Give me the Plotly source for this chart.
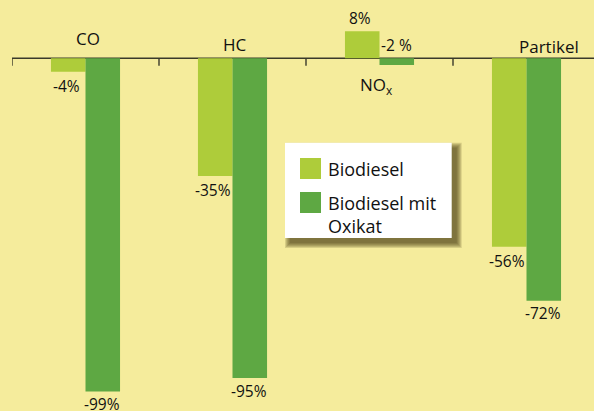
import plotly.graph_objects as go

# Emission change vs. diesel, in percent
categories = ["CO", "HC", "NOx", "Partikel"]
cat_labels = ["CO", "HC", "NO<sub>x</sub>", "Partikel"]
biodiesel = [-4, -35, 8, -56]
biodiesel_oxikat = [-99, -95, -2, -72]
series_names = ["Biodiesel", "Biodiesel mit<br>Oxikat"]

BG = "#F5EC9C"
LIGHT = "#AECC3A"
DARK = "#5EA843"
INK = "#111111"
FONT = "Open Sans"

W, H = 594, 411
ML = 12
PX_PER_UNIT_Y = 3.366
ZERO_PX = 58.3
X_UNIT_PX = 147.0

y_top = ZERO_PX / PX_PER_UNIT_Y
y_bot = -(H - ZERO_PX) / PX_PER_UNIT_Y
x_lo = -0.5
x_hi = x_lo + (W - ML) / X_UNIT_PX

xs = list(range(len(categories)))

fig = go.Figure()
fig.add_bar(x=xs, y=biodiesel, name="Biodiesel", marker_color=LIGHT,
            marker_line_width=0, showlegend=False)
fig.add_bar(x=xs, y=biodiesel_oxikat, name="Biodiesel mit Oxikat",
            marker_color=DARK, marker_line_width=0, showlegend=False)

shapes = []
annotations = []

# baseline with downward ticks between categories
shapes.append(dict(type="line", xref="paper", yref="y", x0=0, x1=1, y0=0, y1=0,
                   line=dict(color="#3A3A2A", width=1.4), layer="below"))
tick_len = 7.4 / PX_PER_UNIT_Y
for b in [i - 0.5 for i in range(len(categories) + 1)]:
    shapes.append(dict(type="line", xref="x", yref="y", x0=b, x1=b, y0=0, y1=-tick_len,
                       line=dict(color="#3A3A2A", width=1.4), layer="below"))

# category names
cat_shift = [(2.5, 19.8), (2.0, 14.3), (-4.0, -26.7), (22.0, 12.3)]
for i, lab in enumerate(cat_labels):
    dx, dy = cat_shift[i]
    annotations.append(dict(x=i, y=0, xref="x", yref="y", text=lab, showarrow=False,
                            xshift=dx, yshift=dy, yanchor="middle",
                            font=dict(family=FONT, size=17, color=INK)))

# value labels
half = 0.1175
def value_label(x, v, dx, dy=-14):
    if v >= 0:
        return dict(x=x, y=v, xref="x", yref="y", text=f"{v}%", showarrow=False,
                    yanchor="middle", yshift=13, xshift=dx,
                    font=dict(family=FONT, size=15.5, color=INK))
    return dict(x=x, y=v, xref="x", yref="y", text=f"{v}%", showarrow=False,
                yanchor="middle", yshift=dy, xshift=dx,
                font=dict(family=FONT, size=15.5, color=INK))

for i, v in enumerate(biodiesel):
    annotations.append(value_label(i - half, v, -2))
for i, v in enumerate(biodiesel_oxikat):
    if v > -5:
        # small NOx value sits above the axis, next to the rising bar
        annotations.append(dict(x=i + half, y=0, xref="x", yref="y",
                                text=f"{v} %", showarrow=False, yanchor="middle",
                                yshift=13, font=dict(family=FONT, size=15.5, color=INK)))
    else:
        annotations.append(value_label(i + half, v, -1, -12.5))

# legend box with soft drop shadow
def px_x(p):
    return (p - ML) / (W - ML)

def px_y(p):
    return 1 - p / H

bx0, by0, bx1, by1 = 285, 142.7, 451.7, 238.0
off = 5
for k in range(5, -1, -1):
    shapes.append(dict(type="rect", xref="paper", yref="paper",
                       x0=px_x(bx0 + off - k), x1=px_x(bx1 + off + k),
                       y0=px_y(by1 + off + k), y1=px_y(by0 + off - k),
                       fillcolor="rgba(70,58,18,0.17)", line_width=0, layer="above"))
shapes.append(dict(type="rect", xref="paper", yref="paper",
                   x0=px_x(bx0), x1=px_x(bx1), y0=px_y(by1), y1=px_y(by0),
                   fillcolor="white", line_width=0, layer="above"))

swatches = [(LIGHT, 158, 179, 169), (DARK, 192, 213, 214)]
for (col, s0, s1, ty), name in zip(swatches, series_names):
    shapes.append(dict(type="rect", xref="paper", yref="paper",
                       x0=px_x(300), x1=px_x(321), y0=px_y(s1), y1=px_y(s0),
                       fillcolor=col, line_width=0, layer="above"))
    annotations.append(dict(x=px_x(326), y=px_y(ty), xref="paper", yref="paper",
                            text=name, showarrow=False, xanchor="left",
                            yanchor="middle", align="left",
                            font=dict(family=FONT, size=18, color=INK)))

fig.update_layout(
    width=W, height=H,
    margin=dict(l=ML, r=0, t=0, b=0),
    paper_bgcolor=BG, plot_bgcolor=BG,
    barmode="group", bargap=0.53, bargroupgap=0,
    xaxis=dict(range=[x_lo, x_hi], visible=False, fixedrange=True),
    yaxis=dict(range=[y_bot, y_top], visible=False, fixedrange=True),
    shapes=shapes, annotations=annotations,
)

fig.write_html("out.html", config={"displayModeBar": False})
